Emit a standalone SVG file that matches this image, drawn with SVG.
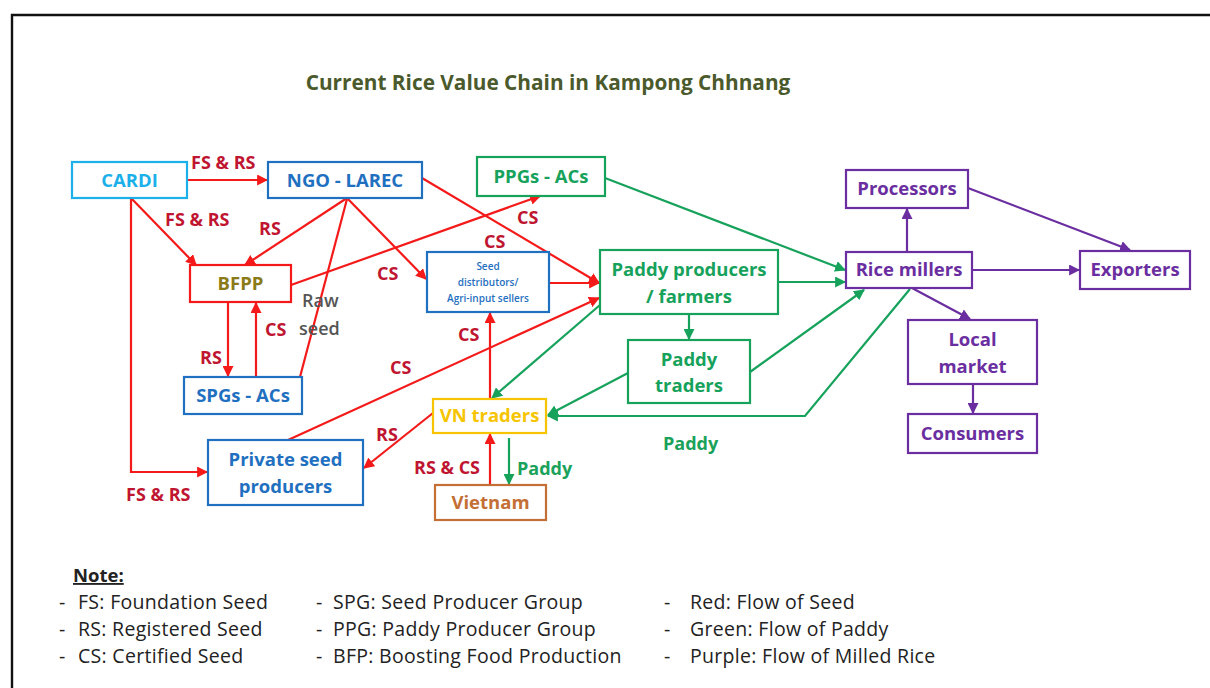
<svg xmlns="http://www.w3.org/2000/svg" width="1210" height="688" viewBox="0 0 1210 688">
  <style>
    text { font-family: "Open Sans", "Liberation Sans", sans-serif; }
    .box { fill: #ffffff; stroke-width: 2.2; }
    .nt { font-size: 18.5px; font-weight: 700; text-anchor: middle; }
    .lbl { font-size: 18px; font-weight: 700; }
    .seed { stroke: #f41a1a; stroke-width: 2.2; fill: none; }
    .paddy { stroke: #17a25c; stroke-width: 2.2; fill: none; }
    .rice { stroke: #6a2ea0; stroke-width: 2.2; fill: none; }
    .rl { fill: #c01530; }
    .gl { fill: #1aa25a; }
    .note { font-size: 19.5px; fill: #222222; letter-spacing: 0.3px; }
  </style>
  <defs>
    <marker id="ar" viewBox="0 0 10 10" refX="9" refY="5" markerWidth="5" markerHeight="5" orient="auto">
      <path d="M0,0 L10,5 L0,10 z" fill="#f41a1a"/>
    </marker>
    <marker id="ag" viewBox="0 0 10 10" refX="9" refY="5" markerWidth="5" markerHeight="5" orient="auto">
      <path d="M0,0 L10,5 L0,10 z" fill="#17a25c"/>
    </marker>
    <marker id="ap" viewBox="0 0 10 10" refX="9" refY="5" markerWidth="5" markerHeight="5" orient="auto">
      <path d="M0,0 L10,5 L0,10 z" fill="#6a2ea0"/>
    </marker>
  </defs>

  <rect width="1210" height="688" fill="#ffffff"/>
  <!-- frame -->
  <path d="M12,688 V15 H1210" fill="none" stroke="#111111" stroke-width="2.4"/>

  <text x="548" y="90" text-anchor="middle" font-size="20.8" font-weight="700" fill="#4b5a2c">Current Rice Value Chain in Kampong Chhnang</text>

  <g id="connectors">
    <!-- seed flows -->
    <line class="seed" x1="187" y1="180" x2="267" y2="180" marker-end="url(#ar)"/>
    <line class="seed" x1="131" y1="198" x2="196" y2="265" marker-end="url(#ar)"/>
    <polyline class="seed" points="131,198 131,472 207,472" marker-end="url(#ar)"/>
    <line class="seed" x1="347" y1="198" x2="245" y2="265" marker-end="url(#ar)"/>
    <line class="seed" x1="347" y1="198" x2="426" y2="279" marker-end="url(#ar)"/>
    <line class="seed" x1="422" y1="178" x2="599" y2="283" marker-end="url(#ar)"/>
    <line class="seed" x1="291" y1="285" x2="540" y2="196" marker-end="url(#ar)"/>
    <line class="seed" x1="300" y1="377" x2="347" y2="199"/>
    <line class="seed" x1="228" y1="302" x2="228" y2="376" marker-end="url(#ar)"/>
    <line class="seed" x1="256" y1="377" x2="256" y2="303" marker-end="url(#ar)"/>
    <line class="seed" x1="549" y1="283" x2="599" y2="283" marker-end="url(#ar)"/>
    <line class="seed" x1="288" y1="440" x2="599" y2="298" marker-end="url(#ar)"/>
    <line class="seed" x1="490" y1="399" x2="490" y2="313" marker-end="url(#ar)"/>
    <line class="seed" x1="433" y1="413" x2="364" y2="468" marker-end="url(#ar)"/>
    <line class="seed" x1="490" y1="485" x2="490" y2="434" marker-end="url(#ar)"/>

    <!-- paddy flows -->
    <line class="paddy" x1="509" y1="438" x2="509" y2="484" marker-end="url(#ag)"/>
    <line class="paddy" x1="600" y1="305" x2="492" y2="398" marker-end="url(#ag)"/>
    <line class="paddy" x1="628" y1="373" x2="548" y2="415" marker-end="url(#ag)"/>
    <polyline class="paddy" points="910,289 805,416 548,416" marker-end="url(#ag)"/>
    <line class="paddy" x1="605" y1="178" x2="845" y2="270" marker-end="url(#ag)"/>
    <line class="paddy" x1="778" y1="282" x2="845" y2="282" marker-end="url(#ag)"/>
    <line class="paddy" x1="689" y1="314" x2="689" y2="339" marker-end="url(#ag)"/>
    <line class="paddy" x1="750" y1="372" x2="864" y2="290" marker-end="url(#ag)"/>

    <!-- milled rice flows -->
    <line class="rice" x1="907" y1="252" x2="907" y2="209" marker-end="url(#ap)"/>
    <line class="rice" x1="968" y1="188" x2="1130" y2="250" marker-end="url(#ap)"/>
    <line class="rice" x1="972" y1="270" x2="1079" y2="270" marker-end="url(#ap)"/>
    <line class="rice" x1="912" y1="288" x2="970" y2="319" marker-end="url(#ap)"/>
    <line class="rice" x1="973" y1="384" x2="973" y2="413" marker-end="url(#ap)"/>

    <!-- flow labels -->
    <text class="lbl rl" x="191" y="169">FS &amp; RS</text>
    <text class="lbl rl" x="165" y="226">FS &amp; RS</text>
    <text class="lbl rl" x="126" y="501">FS &amp; RS</text>
    <text class="lbl rl" x="259" y="235">RS</text>
    <text class="lbl rl" x="377" y="280">CS</text>
    <text class="lbl rl" x="484" y="248">CS</text>
    <text class="lbl rl" x="517" y="224">CS</text>
    <text class="lbl rl" x="200" y="364">RS</text>
    <text class="lbl rl" x="265" y="336">CS</text>
    <text class="lbl rl" x="390" y="374">CS</text>
    <text class="lbl rl" x="458" y="341">CS</text>
    <text class="lbl rl" x="376" y="441">RS</text>
    <text class="lbl rl" x="414" y="474">RS &amp; CS</text>
    <text x="302" y="307" font-size="18" font-weight="600" fill="#555555">Raw</text>
    <text x="299" y="335" font-size="18" font-weight="600" fill="#555555">seed</text>
    <text class="lbl gl" x="517" y="475">Paddy</text>
    <text class="lbl gl" x="663" y="450">Paddy</text>
  </g>

  <g id="cardi">
    <rect class="box" x="72" y="162" width="115" height="36" stroke="#1cb0ea"/>
    <text class="nt" x="129.5" y="187" fill="#1cb0ea">CARDI</text>
  </g>
  <g id="ngo-larec">
    <rect class="box" x="268" y="162" width="154" height="36" stroke="#1f70c0"/>
    <text class="nt" x="345" y="187" fill="#1f70c0">NGO - LAREC</text>
  </g>
  <g id="ppgs-acs">
    <rect class="box" x="477" y="157" width="128" height="39" stroke="#17a25c"/>
    <text class="nt" x="541" y="183" fill="#17a25c">PPGs - ACs</text>
  </g>
  <g id="bfpp">
    <rect class="box" x="190" y="265" width="101" height="37" stroke="#f41a1a"/>
    <text class="nt" x="240.5" y="290" fill="#8a7a18" font-size="17">BFPP</text>
  </g>
  <g id="seed-distributors">
    <rect class="box" x="427" y="252" width="122" height="60" stroke="#1f70c0"/>
    <text x="488" y="270" text-anchor="middle" font-size="10" font-weight="600" fill="#1f70c0">Seed</text>
    <text x="488" y="286" text-anchor="middle" font-size="10" font-weight="600" fill="#1f70c0">distributors/</text>
    <text x="488" y="302" text-anchor="middle" font-size="10" font-weight="600" fill="#1f70c0">Agri-input sellers</text>
  </g>
  <g id="paddy-producers">
    <rect class="box" x="600" y="250" width="178" height="64" stroke="#17a25c"/>
    <text class="nt" x="689" y="276" fill="#17a25c">Paddy producers</text>
    <text class="nt" x="689" y="303" fill="#17a25c">/ farmers</text>
  </g>
  <g id="paddy-traders">
    <rect class="box" x="628" y="340" width="122" height="63" stroke="#17a25c"/>
    <text class="nt" x="689" y="366" fill="#17a25c">Paddy</text>
    <text class="nt" x="689" y="392" fill="#17a25c">traders</text>
  </g>
  <g id="spgs-acs">
    <rect class="box" x="184" y="377" width="118" height="37" stroke="#1f70c0"/>
    <text class="nt" x="243" y="402" fill="#1f70c0">SPGs - ACs</text>
  </g>
  <g id="vn-traders">
    <rect class="box" x="433" y="399" width="113" height="34" stroke="#f6c400"/>
    <text class="nt" x="489.5" y="422" fill="#f6c400" font-size="17">VN traders</text>
  </g>
  <g id="private-seed-producers">
    <rect class="box" x="208" y="440" width="155" height="65" stroke="#1f70c0"/>
    <text class="nt" x="285.5" y="466" fill="#1f70c0">Private seed</text>
    <text class="nt" x="285.5" y="493" fill="#1f70c0">producers</text>
  </g>
  <g id="vietnam">
    <rect class="box" x="435" y="485" width="111" height="35" stroke="#c46f35"/>
    <text class="nt" x="490.5" y="509" fill="#c46f35">Vietnam</text>
  </g>
  <g id="processors">
    <rect class="box" x="846" y="170" width="122" height="38" stroke="#6a2ea0"/>
    <text class="nt" x="907" y="195" fill="#6a2ea0">Processors</text>
  </g>
  <g id="rice-millers">
    <rect class="box" x="846" y="252" width="126" height="36" stroke="#6a2ea0"/>
    <text class="nt" x="909" y="276" fill="#6a2ea0">Rice millers</text>
  </g>
  <g id="exporters">
    <rect class="box" x="1080" y="251" width="110" height="38" stroke="#6a2ea0"/>
    <text class="nt" x="1135" y="276" fill="#6a2ea0">Exporters</text>
  </g>
  <g id="local-market">
    <rect class="box" x="908" y="320" width="129" height="64" stroke="#6a2ea0"/>
    <text class="nt" x="972.5" y="346" fill="#6a2ea0">Local</text>
    <text class="nt" x="972.5" y="373" fill="#6a2ea0">market</text>
  </g>
  <g id="consumers">
    <rect class="box" x="908" y="414" width="129" height="39" stroke="#6a2ea0"/>
    <text class="nt" x="972.5" y="440" fill="#6a2ea0">Consumers</text>
  </g>

  <g id="legend">
    <text x="73" y="582" font-size="18.5" font-weight="700" fill="#222222" text-decoration="underline">Note:</text>
    <text class="note" x="59" y="609">-</text>
    <text class="note" x="78" y="609">FS: Foundation Seed</text>
    <text class="note" x="59" y="636">-</text>
    <text class="note" x="78" y="636">RS: Registered Seed</text>
    <text class="note" x="59" y="663">-</text>
    <text class="note" x="78" y="663">CS: Certified Seed</text>
    <text class="note" x="316" y="609">-</text>
    <text class="note" x="333" y="609">SPG: Seed Producer Group</text>
    <text class="note" x="316" y="636">-</text>
    <text class="note" x="333" y="636">PPG: Paddy Producer Group</text>
    <text class="note" x="316" y="663">-</text>
    <text class="note" x="333" y="663">BFP: Boosting Food Production</text>
    <text class="note" x="664" y="609">-</text>
    <text class="note" x="690" y="609">Red: Flow of Seed</text>
    <text class="note" x="664" y="636">-</text>
    <text class="note" x="690" y="636">Green: Flow of Paddy</text>
    <text class="note" x="664" y="663">-</text>
    <text class="note" x="690" y="663">Purple: Flow of Milled Rice</text>
  </g>
</svg>
